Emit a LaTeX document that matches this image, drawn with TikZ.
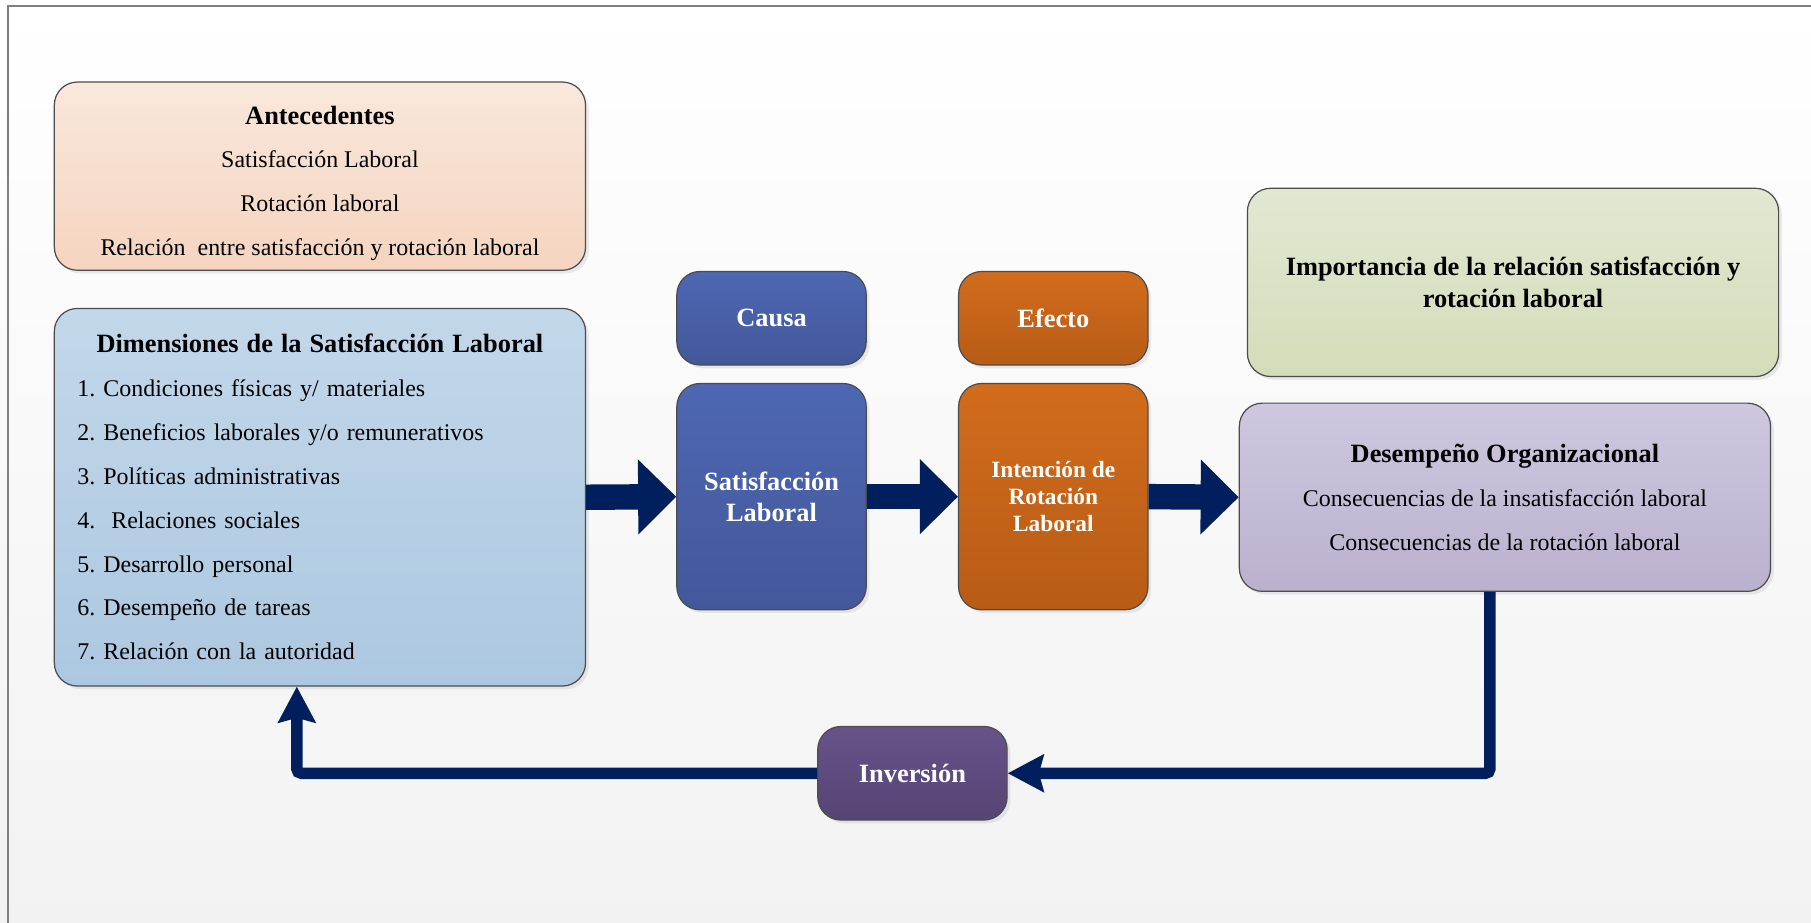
\documentclass[tikz,border=0pt]{standalone}
\usepackage{fontspec}
\setmainfont{Liberation Serif}
\usepackage{tikz}
\usetikzlibrary{arrows.meta,positioning,shadows}
\usepackage{xcolor}
\frenchspacing

\definecolor{peachT}{HTML}{F9E8DC}
\definecolor{peachB}{HTML}{F5D4BF}
\definecolor{skyT}{HTML}{C3D7EA}
\definecolor{skyB}{HTML}{ACC8E0}
\definecolor{causeT}{HTML}{4E67B2}
\definecolor{causeB}{HTML}{42589A}
\definecolor{effectT}{HTML}{D26C1C}
\definecolor{effectB}{HTML}{B75C16}
\definecolor{leafT}{HTML}{E1E8D2}
\definecolor{leafB}{HTML}{D3DDB8}
\definecolor{lilacT}{HTML}{CFC7DF}
\definecolor{lilacB}{HTML}{BBB1CF}
\definecolor{plumT}{HTML}{66538A}
\definecolor{plumB}{HTML}{564473}
\definecolor{navy}{HTML}{001F5C}

\newcommand{\TitleFont}{\fontsize{13}{21.6}\selectfont\bfseries}
\newcommand{\BodyFont}{\fontsize{11.8}{21.6}\selectfont}

\begin{document}
\begin{tikzpicture}[x=0.02cm,y=-0.02cm]
                        \tikzset{Box/.style={%
                                rounded corners=0.4cm,%
                                draw=black!70,%
                                line width=0.6pt,%
                                inner sep=0pt,%
                                align=center,%
                                drop shadow={shadow xshift=1.6pt,shadow yshift=-1.6pt,opacity=0.15},%
                            },
                            WideBox/.style={Box, minimum width=9.2cm, minimum height=3.26cm, font=\BodyFont},%
                            SmallBox/.style={Box, minimum width=3.28cm, minimum height=1.62cm, text=white,%
                                font=\fontsize{13}{15.4}\selectfont\bfseries, node distance=3.09cm},%
                            TallBox/.style={Box, minimum width=3.28cm, minimum height=3.92cm, text=white,%
                                node distance=4.88cm},%
                            BlockArrow/.style={draw=navy, line width=0.44cm,%
                                -{Triangle[length=0.66cm, width=1.26cm]}},%
                            LoopArrow/.style={draw=navy, line width=0.2cm, rounded corners=0.08cm,%
                                -{Stealth[length=0.62cm, width=0.64cm, inset=0.08cm]}},%
                        }

                            % page
                            \useasboundingbox (0,0) rectangle (1568,799);
                            \shade[top color=white, bottom color=black!5] (0,0) rectangle (1568,799);
                            \draw[black!50, line width=0.8pt] (1568,5) -- (7,5) -- (7,799);

                            % left column
                            \node[WideBox, top color=peachT, bottom color=peachB] (ante) at (277,152.5)
                                {{\TitleFont\rule{0pt}{16pt}Antecedentes}\\ Satisfacción Laboral\\ Rotación laboral\\
                                 Relación\ \ entre satisfacción y rotación laboral};
                            \node[WideBox, minimum height=6.54cm, text width=8.4cm, align=left,
                                  top color=skyT, bottom color=skyB] (dim) at (277,430.5)
                                {\hbox to\hsize{\hfil\TitleFont Dimensiones de la Satisfacción Laboral\hfil}\\
                                 1. Condiciones físicas y/ materiales\\
                                 2. Beneficios laborales y/o remunerativos\\
                                 3. Políticas administrativas\\
                                 4.\ \ Relaciones sociales\\
                                 5. Desarrollo personal\\
                                 6. Desempeño de tareas\\
                                 7. Relación con la autoridad};

                            % cause and effect
                            \node[TallBox, top color=causeT, bottom color=causeB,
                                  font=\fontsize{13}{15.4}\selectfont\bfseries] (sat) at (668,430)
                                {Satisfacción\\ Laboral};
                            \node[TallBox, top color=effectT, bottom color=effectB, right of=sat,
                                  font=\fontsize{11.5}{13.4}\selectfont\bfseries] (rot) {Intención de\\ Rotación\\ Laboral};
                            \node[SmallBox, top color=causeT, bottom color=causeB, above of=sat] (causa) {Causa};
                            \node[SmallBox, top color=effectT, bottom color=effectB, above of=rot] (efecto) {Efecto};

                            % right column
                            \node[WideBox, top color=leafT, bottom color=leafB,
                                  font=\fontsize{13}{15.4}\selectfont\bfseries] (imp) at (1310,244.5)
                                {Importancia de la relación satisfacción y\\ rotación laboral};
                            \node[WideBox, top color=lilacT, bottom color=lilacB] (des) at (1303,430.5)
                                {{\TitleFont Desempeño Organizacional}\\
                                 Consecuencias de la insatisfacción laboral\\
                                 Consecuencias de la rotación laboral};

                            \node[SmallBox, top color=plumT, bottom color=plumB] (inv) at (790,669.5) {Inversión};

                            \draw[BlockArrow] (dim.east) -- (sat.west);
                            \draw[BlockArrow] (sat.east) -- (rot.west);
                            \draw[BlockArrow] (rot.east) -- (des.west);
                            \draw[LoopArrow] ([xshift=-0.26cm]des.south) |- (inv.east);
                            \draw[LoopArrow] (inv.west) -| ([xshift=-0.4cm]dim.south);
                    \end{tikzpicture}
\end{document}
